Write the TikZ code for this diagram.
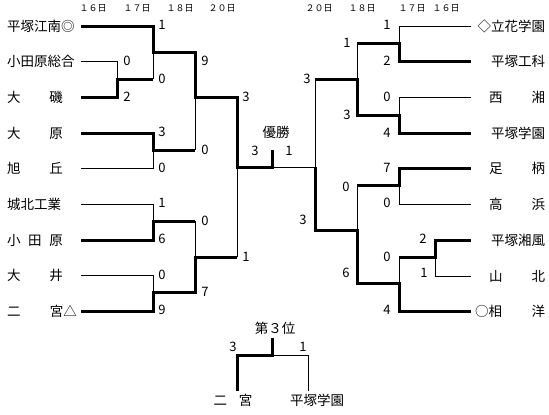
\documentclass[tikz,border=0pt]{standalone}
\usepackage{fontspec}
\setmainfont{Noto Sans CJK JP}
\usetikzlibrary{positioning}
\newcommand{\spreadname}[2]{\makebox[#1][s]{#2}}

\begin{document}
\begin{tikzpicture}[
    x=1pt, y=-1pt,
    every node/.style={inner sep=0pt, outer sep=0pt},
    team/.style={font=\fontsize{13.5}{14}\selectfont},
    score/.style={font=\fontsize{13}{13}\selectfont},
    day/.style={font=\fontsize{9}{9}\selectfont},
    winline/.style={line width=3pt, black},
    loseline/.style={line width=1pt, black}
]
\useasboundingbox (0,0) rectangle (549,415);

% --- Day headers ---
\node[day] (dL1) at (93,8) {１６日};
\node[day] (dL2) at (137,8) {１７日};
\node[day] (dL3) at (180,8) {１８日};
\node[day] (dL4) at (222,8) {２０日};
\node[day] (dR4) at (319,8) {２０日};
\node[day] (dR3) at (362,8) {１８日};
\node[day] (dR2) at (412,8) {１７日};
\node[day] (dR1) at (446,8) {１６日};

% --- Left teams ---
\node[team, anchor=west] (tL1) at (7,26) {平塚江南◎};
\node[team, anchor=west] (tL2) at (7,61) {小田原総合};
\node[team, anchor=west] (tL3) at (7,97) {\spreadname{56pt}{大\hfill 磯}};
\node[team, anchor=west] (tL4) at (7,133) {\spreadname{56pt}{大\hfill 原}};
\node[team, anchor=west] (tL5) at (7,168) {\spreadname{56pt}{旭\hfill 丘}};
\node[team, anchor=west] (tL6) at (7,204) {城北工業};
\node[team, anchor=west] (tL7) at (7,240) {\spreadname{56pt}{小\hfill 田\hfill 原}};
\node[team, anchor=west] (tL8) at (7,275) {\spreadname{56pt}{大\hfill 井}};
\node[team, anchor=west] (tL9) at (7,311) {\spreadname{70pt}{二\hfill 宮△}};

% --- Right teams ---
\node[team, anchor=east] (tR1) at (545,26) {◇立花学園};
\node[team, anchor=east] (tR2) at (545,61) {平塚工科};
\node[team, anchor=east] (tR3) at (545,97) {\spreadname{56pt}{西\hfill 湘}};
\node[team, anchor=east] (tR4) at (545,133) {平塚学園};
\node[team, anchor=east] (tR5) at (545,168) {\spreadname{56pt}{足\hfill 柄}};
\node[team, anchor=east] (tR6) at (545,204) {\spreadname{56pt}{高\hfill 浜}};
\node[team, anchor=east] (tR7) at (545,240) {平塚湘風};
\node[team, anchor=east] (tR8) at (545,276) {\spreadname{56pt}{山\hfill 北}};
\node[team, anchor=east] (tR9) at (545,311) {\spreadname{70pt}{○相\hfill 洋}};

% --- Line ends and junctions ---
\foreach \y [count=\i] in {26,61,97,133,168,204,240,275,311}
    \coordinate (L\i) at (81,\y);
\foreach \y [count=\i] in {26,61,97,133,168,204,240,276,311}
    \coordinate (R\i) at (471,\y);
\coordinate (m1) at (117,79);
\coordinate (m2) at (153,52);
\coordinate (m3) at (153,150);
\coordinate (m4) at (153,221);
\coordinate (m5) at (153,292);
\coordinate (s1) at (195,97);
\coordinate (s2) at (195,257);
\coordinate (f1) at (237,167);
\coordinate (top) at (272,167);
\coordinate (win) at (272,150);
\coordinate (n1) at (399,43);
\coordinate (n2) at (399,115);
\coordinate (n3) at (399,185);
\coordinate (n4) at (435,257);
\coordinate (n5) at (399,283);
\coordinate (t1) at (357,79);
\coordinate (t2) at (357,230);
\coordinate (f2) at (315,167);

% --- Left bracket ---
\draw[loseline] (L2) -| (m1);
\draw[winline] (L3) -| (m1) -- (m1 -| m2);
\draw[loseline] (m1 -| m2) -- (m2);
\draw[winline] (L1) -| (m2) -- (m2 -| s1) -- (s1) -- (s1 -| f1) -- (f1) -- (top) -- (win);
\draw[winline] (L4) -| (m3) -- (m3 -| s1);
\draw[loseline] (L5) -| (m3);
\draw[loseline] (m3 -| s1) -- (s1);
\draw[loseline] (L6) -| (m4);
\draw[winline] (L7) -| (m4) -- (m4 -| s2);
\draw[loseline] (m4 -| s2) -- (s2);
\draw[loseline] (L8) -| (m5);
\draw[winline] (L9) -| (m5) -- (m5 -| s2) -- (s2) -- (s2 -| f1);
\draw[loseline] (s2 -| f1) -- (f1);

% --- Right bracket ---
\draw[loseline] (top) -- (f2);
\draw[loseline] (R1) -| (n1);
\draw[winline] (R2) -| (n1) -- (n1 -| t1);
\draw[loseline] (n1 -| t1) -- (t1);
\draw[loseline] (R3) -| (n2);
\draw[winline] (R4) -| (n2) -- (n2 -| t1) -- (t1) -- (t1 -| f2);
\draw[loseline] (t1 -| f2) -- (f2);
\draw[winline] (R5) -| (n3) -- (n3 -| t2);
\draw[loseline] (R6) -| (n3);
\draw[loseline] (n3 -| t2) -- (t2);
\draw[winline] (R7) -| (n4) -- (n4 -| n5);
\draw[loseline] (R8) -| (n4);
\draw[loseline] (n4 -| n5) -- (n5);
\draw[winline] (R9) -| (n5) -- (n5 -| t2) -- (t2) -- (t2 -| f2) -- (f2);

% --- Final ---
\node[team] (champ) at (276,132) {優勝};
\node[score] (fs1) at (255,151) {3};
\node[score] (fs2) at (289,151) {1};

% --- Scores ---
\foreach \x/\y/\s [count=\i] in {
    162/25/1, 127/61/0, 162/79/0, 127/97/2, 205/61/9, 246/97/3,
    162/132/3, 205/150/0, 162/168/0, 162/203/1, 205/221/0, 162/239/6,
    246/257/1, 162/275/0, 205/292/7, 162/310/9,
    387/25/1, 387/61/2, 387/97/0, 387/133/4, 347/43/1, 307/79/3,
    347/115/3, 387/168/7, 387/203/0, 346/187/0, 303/220/3, 423/239/2,
    387/257/0, 424/273/1, 346/273/6, 387/310/4}
    \node[score] (sc\i) at (\x,\y) {\s};

% --- Third place ---
\node[team] (third) at (275,328) {第３位};
\node[team] (p1) at (233,400) {\spreadname{39pt}{二\hfill 宮}};
\node[team] (p2) at (317,400) {平塚学園};
\coordinate (q) at (272,355);
\coordinate (qw) at (272,338);
\coordinate (qa) at (237,391);
\coordinate (qb) at (308,391);
\draw[winline] (qa) -- (qa |- q) -- (q) -- (qw);
\draw[loseline] (q) -- (q -| qb) -- (qb);
\node[score] (ts1) at (233,347) {3};
\node[score] (ts2) at (303,347) {1};
\end{tikzpicture}
\end{document}
